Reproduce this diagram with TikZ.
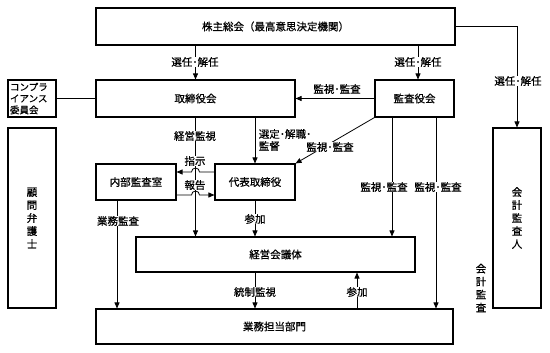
\documentclass[tikz,border=0pt]{standalone}
\usepackage{fontspec}
\setmainfont{Noto Sans CJK JP}[FakeBold=0.8]
\usetikzlibrary{arrows.meta, calc, positioning}

\begin{document}
\begin{tikzpicture}[x=1pt, y=-1pt,
    box/.style={draw, line width=1.1pt, minimum height=37, inner sep=0, align=center, font=\fontsize{10.5}{13}\selectfont},
    tall/.style={box, minimum width=48, minimum height=180},
    lbl/.style={fill=white, inner sep=0.6pt, align=center, font=\fontsize{10.5}{12}\selectfont},
    ln/.style={line width=0.8pt},
    arr/.style={ln, -{Triangle[length=6pt, width=5pt]}}
]
\useasboundingbox (0,0) rectangle (550,353);

\node[box, minimum width=359] (soukai) at (275.5,26.5) {株主総会（最高意思決定機関）};
\node[box, minimum width=199] (torishimari) at (195.5,98.5) {取締役会};
\node[box, minimum width=79] (kansayaku) at (414.5,98.5) {監査役会};
\node[box, minimum width=48, text width=44, align=left, font=\fontsize{9.5}{11.5}\selectfont] (compliance) at (32,98.5) {コンプラ\\イアンス\\委員会};
\node[tall] (komon) at (32,218) {顧\\問\\弁\\護\\士};
\node[tall] (kaikei) at (517,218) {会\\計\\監\\査\\人};
\node[box, minimum width=80, minimum height=36] (naibu) at (136,182) {内部監査室};
\node[box, minimum width=80, minimum height=36] (daihyo) at (255,182) {代表取締役};
\node[box, minimum width=279, minimum height=35] (keiei) at (275.5,254.5) {経営会議体};
\node[box, minimum width=357, minimum height=35] (gyomu) at (274.5,326.5) {業務担当部門};
\node[align=center, inner sep=0, font=\fontsize{10.5}{13}\selectfont] (kaikeikansa) at (481,288) {会\\計\\監\\査};

\coordinate (ksTop) at ([xshift=3.5pt]kansayaku.north);
\coordinate (ksL) at ([xshift=-22.5pt]kansayaku.south);
\coordinate (ksR) at ([xshift=21.5pt]kansayaku.south);
\coordinate (nbBot) at ([xshift=-19pt]naibu.south);
\coordinate (gyUp) at ([xshift=82.5pt]gyomu.north);
\coordinate (hopA) at (torishimari.south |- daihyo.west);

\draw[arr] (torishimari.north |- soukai.south) -- (torishimari.north);
\draw[arr] (ksTop |- soukai.south) -- (ksTop);
\draw[arr] (soukai.east) -| (kaikei.north);
\draw[ln] (compliance.east) -- (torishimari.west);
\draw[arr] (kansayaku.west) -- (torishimari.east);
\draw[arr] (kansayaku.south west) -- (daihyo.north east);
\draw[arr] (daihyo.north |- torishimari.south) -- (daihyo.north);
\draw[arr] (torishimari.south) -- (torishimari.south |- keiei.north);
\draw[arr] ([yshift=10pt]daihyo.west) -- ($(hopA)+(4,-10)$) arc[start angle=0, end angle=180, radius=4pt] -- ([yshift=10pt]naibu.east);
\draw[arr] ([yshift=-13pt]naibu.east) -- ($(hopA)+(-4,13)$) arc[start angle=180, end angle=0, radius=4pt] -- ([yshift=-13pt]daihyo.west);
\draw[arr] (nbBot) -- (nbBot |- gyomu.north);
\draw[arr] (daihyo.south) -- (daihyo.south |- keiei.north);
\draw[arr] (ksL) -- (ksL |- keiei.north);
\draw[arr] (ksR) -- (ksR |- gyomu.north);
\draw[arr] (daihyo.south |- keiei.south) -- (daihyo.south |- gyomu.north);
\draw[arr] (gyUp) -- (gyUp |- keiei.south);

\node[lbl] (lSen1) at (195,62) {選任･解任};
\node[lbl] (lSen2) at (418,62) {選任･解任};
\node[lbl] (lSen3) at (518,81) {選任･解任};
\node[lbl, fill=none] (lKan1) at (337,89) {監視･監査};
\node[lbl] (lKan2) at (330,147) {監視･監査};
\node[lbl, fill=none, align=left, anchor=west] (lSentei) at (258,140) {選定･解職･\\監督};
\node[lbl] (lKeiei) at (195,136) {経営監視};
\node[lbl] (lShiji) at (195,161) {指示};
\node[lbl] (lHoukoku) at (195,185) {報告};
\node[lbl] (lGyomu) at (118,221) {業務監査};
\node[lbl] (lSanka1) at (255,219) {参加};
\node[lbl] (lKan3) at (384,187) {監視･監査};
\node[lbl] (lKan4) at (438,187) {監視･監査};
\node[lbl] (lTousei) at (255,292) {統制監視};
\node[lbl] (lSanka2) at (357,292) {参加};
\end{tikzpicture}
\end{document}
